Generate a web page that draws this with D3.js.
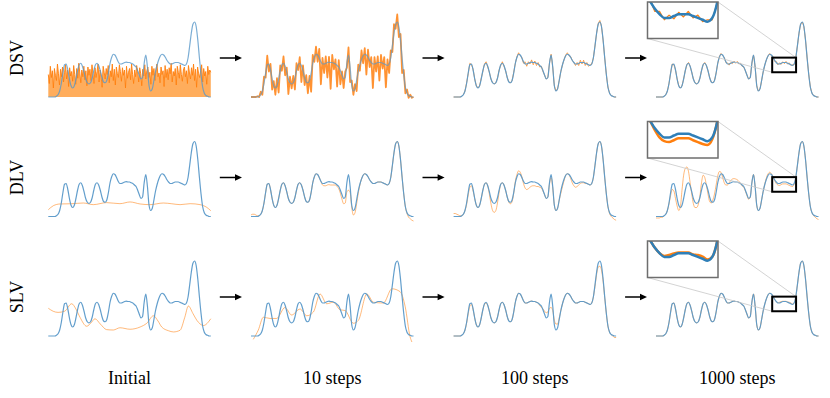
<!DOCTYPE html>
<html>
<head>
<meta charset="utf-8">
<script src="https://cdn.jsdelivr.net/npm/d3@7"></script>
<style>
    body { margin: 0; background: #fff; }
    text { font-family: "Liberation Serif", "DejaVu Serif", serif; }
</style>
</head>
<body>
<script>
const w = 830;
const h = 398;

const rowNames = ["DSV", "DLV", "SLV"];
const colNames = ["Initial", "10 steps", "100 steps", "1000 steps"];

// target density, 101 even samples across a panel (0 = floor, 100 = tallest peak)
const target = [
    0, 0, 0, 0, 0, 1, 3, 8, 18, 32,
    43, 44, 36, 24, 15, 12, 15, 24, 35, 43,
    45, 41, 33, 24, 19, 17.5, 19, 25, 35, 43,
    45, 42, 35, 26, 20, 19, 22, 32, 45, 53,
    57, 56, 52, 47, 44, 44, 45, 46, 46.5, 46,
    46, 45, 44, 42, 40, 35, 29, 24, 26, 45,
    56, 40, 15, 8, 11, 22, 34, 43, 50, 55,
    57, 56, 53, 49, 46, 44, 44, 45, 46, 46,
    46, 45, 44, 43, 42, 44, 52, 68, 85, 97,
    100, 94, 76, 52, 30, 13, 5, 2, 1, 0,
    0
];

// DSV initial: pure noise, 161 even samples
const dsvInitial = [
    30, 18, 41, 26, 35, 12, 38, 29, 22, 44, 31, 16, 37, 27, 40, 20, 33, 43, 24, 36,
    14, 39, 28, 34, 21, 42, 30, 17, 38, 25, 45, 32, 19, 36, 27, 41, 23, 35, 15, 40,
    29, 37, 22, 43, 31, 18, 39, 26, 34, 44, 20, 36, 28, 13, 41, 33, 24, 38, 30, 42,
    19, 35, 27, 44, 22, 37, 16, 40, 31, 26, 43, 34, 21, 39, 29, 36, 12, 41, 25, 33,
    38, 23, 44, 30, 18, 36, 27, 42, 34, 20, 39, 31, 15, 37, 28, 43, 24, 35, 40, 26,
    33, 17, 41, 29, 38, 22, 36, 44, 27, 32, 19, 40, 30, 35, 14, 42, 26, 37, 23, 39,
    31, 45, 20, 34, 28, 38, 16, 41, 33, 25, 43, 30, 21, 36, 40, 27, 35, 18, 42, 32,
    24, 39, 29, 44, 22, 37, 13, 40, 31, 26, 35, 43, 20, 38, 28, 34, 17, 41, 30, 36, 33
];

// deviations from the target, same 101 samples
const dsv10Off = [
    0, 0, 0, 0, 1,
    -1, 4, -5, 9, -6, 12, -10, 8, -14, 6, -9, 10, -18, 7, -8,
    9, -12, 6, -20, 8, -6, 9, -15, 10, -7, 8, -22, 7, -10, 9,
    -14, 6, -25, 11, -6, 10, -9, 12, -30, 8, -12, 9, -20, 7, -35,
    10, -8, 6, -28, 9, -18, 5, -12, 8, -6, 10, -20, 7, -5, 6,
    -14, 9, -8, 12, -10, 8, -26, 10, -9, 7, -32, 9, -11, 8, -24,
    10, -7, 9, -30, 8, -12, 10, -8, 12, -6, 10, -14, 8, -20, 6,
    -8, 5, -3, 2, -1,
    0
];
const dsv100Off = [
    0, 0, 0, 0, 0, 0, 0, 0, 1, -1,
    2, -1, 1, 0, 0, 0, 0, 1, -1, 1,
    2, -1, 0, 0, 0, 0, 0, 0, 1, -1,
    2, -1, 0, 0, 0, 0, 0, 1, 0, 1,
    2, -1, 1, -2, 3, -3, 2, -2, 3, -3,
    2, -3, 2, -2, 1, -1, 0, 0, 0, 0,
    1, 0, 0, 0, 0, 0, 0, 0, 0, 1,
    2, -1, 1, 0, 0, -2, 2, -3, 3, -2,
    3, -3, 2, -2, 1, 0, 0, 0, 0, 1,
    2, 0, 0, 0, 0, 0, 0, 0, 0, 0,
    0
];
const dsv1000Off = [
    0, 0, 0, 0, 0, 0, 0, 0, 0, 0,
    1, -1, 0, 0, 0, 0, 0, 0, 0, 0,
    1, 0, 0, 0, 0, 0, 0, 0, 0, 0,
    1, 0, 0, 0, 0, 0, 0, 0, 0, 1,
    1, -1, 1, -1, 1.5, -1.5, 1, -1.5, 1.5, -1,
    1.5, -1, 1, -1, 0, 0, 0, 0, 0, 0,
    0, 0, 0, 0, 0, 0, 0, 0, 0, 0,
    1, -1, 1, -1.5, 1.5, -1, 1.5, -1.5, 1, -1.5,
    1.5, -1, 1.5, -1, 1, -1, 0, 0, 0, 0,
    0, 0, 0, 0, 0, 0, 0, 0, 0, 0,
    0
];

// DLV initial, knots
const dlvInitU = [0, 0.031, 0.072, 0.14, 0.216, 0.277, 0.359, 0.441, 0.503, 0.565, 0.626, 0.708, 0.76, 0.811, 0.873, 0.934, 0.975, 1.0];
const dlvInitV = [9, 14.4, 16.7, 17, 18, 15.8, 18.5, 17.1, 19.4, 16.7, 15.8, 18, 17, 15.8, 17.1, 15.8, 12.2, 7.7];

const dlv10Off = [
    2, 3, 3, 2, 1, 0, 0, 0, 0, 0,
    0, 0, 0, 0, 0, 0, 0, 0, 0, 0,
    0, 0, 0, 0, 0, 0, 0, 0, 0, 0,
    0, 0, 0, 0, 0, 0, 0, 0, 0, 0,
    0, 0, 0, 0, -2, -3, -4, -4, -4, -4,
    -4, -3, -2, -2, -3, -4, -6, -7, -8, -12,
    -21, -8, -3, -6, -6, -5, -3, -1, 0, 0,
    0, 0, 0, 0, 0, 0, 0, 0, 0, 0,
    0, 0, 0, 0, 0, 0, 0, 0, 0, 0,
    0, 0, 0, 0, 0, 0, -1, -3, -4, -5,
    -6
];
const dlv100Off = [
    4, 4, 3, 2, 1, 0, 0, 0, -2, -3,
    -4, -3, -2, 0, 0, 0, 0, 0, 0, 0,
    0, 0, -3, -7, -11, -12, -11, -7, -3, 0,
    0, 0, 0, 0, -1, -2, -2, -1, 2, 3,
    4, 3, 1, -3, -6, -8, -8, -7, -6, -5,
    -5, -5, -4, -3, -2, -1, 0, 0, 0, -2,
    -4, -2, 0, 0, 0, 0, -3, -3, -2, 0,
    0, 0, -2, -4, -5, -5, -4, -3, -2, -1,
    -1, -1, 0, 0, 0, 0, 0, 0, 0, 0,
    0, 0, 0, 0, 0, 0, -1, -2, -3, -4,
    -5
];
const dlv1000Off = [
    -2, -2, -2, -1, -1, 0, 0, 0, -1, -4,
    -7, -10, -12, -10, -7, 1, 20, 31, 29, 23,
    15, 4, -3, -7, -7, -5.5, -3, 2, 10, 12,
    7, 0, -5, -6, -2, 3, 8, 10, 9, 7,
    2, -4, -7, -5, -2, 1, 3, 4, 4, 4,
    3, 2, 0, -1, -1, -1, -1, -1, 0, 0,
    0, 0, 0, 0, 0, 0, 0, 1, 2, 2,
    2, 1, 0, -1, -2, -2, -2.5, -2.5, -2.5, -2.5,
    -2.5, -2.5, -2.5, -2.5, -2, -1, 0, 0, 0, 0,
    0, 0, 0, 0, 0, 0, 0, -1, -2, -3,
    -4
];

// SLV initial and 10 steps, knots
const slvInitU = [0, 0.03, 0.06, 0.1, 0.144, 0.17, 0.195, 0.236, 0.265, 0.287, 0.32, 0.359, 0.4, 0.441, 0.503, 0.565, 0.606, 0.647, 0.675, 0.698, 0.74, 0.77, 0.811, 0.84, 0.862, 0.89, 0.914, 0.955, 1.0];
const slvInitV = [37, 33, 31.5, 33, 43, 36, 25, 13, 18, 23, 16, 8.5, 8, 11, 9, 12, 17, 27, 20, 12, 7, 5.4, 7.7, 25, 40, 30, 21, 14, 23];
const slv10U = [0.014, 0.045, 0.076, 0.117, 0.158, 0.209, 0.25, 0.302, 0.343, 0.384, 0.425, 0.466, 0.507, 0.548, 0.579, 0.63, 0.661, 0.713, 0.754, 0.815, 0.867, 0.918, 0.949, 0.979, 0.99];
const slv10V = [-4.5, 8, 25, 23.4, 23.4, 38, 28, 36, 27, 32, 56, 43, 45, 35, 34, 17, 21, 56, 45, 44, 63, 59, 39, -1, -8];

const slv100Off = [
    0, 0, 0, 0, 0, 0, 0, 0, -1, -2,
    -3, -2, -1, 0, 0, 0, 0, 0, 0, -1,
    -1, 0, 0, 0, 0, 0, 0, 0, 0, 0,
    0, 0, 0, 0, 0, 0, 0, 0, 0, 0,
    0, 0, 0, 0, 0, 0, 0, 0, 0, 0,
    0, 0, 0, -1, -2, 1, 4, 7, 6, -8,
    -18, -6, 6, 8, 5, 2, 0, 0, 0, 0,
    0, 0, 0, 0, 0, 0, 0, 0, 0, 0,
    0, 0, 0, 0, 0, 0, 0, -2, -3, -5,
    -7, -6, -3, -1, 0, 0, 0, 0, -1, -2,
    -2
];
const slv1000Off = [
    0, 0, 0, 0, 0, 0, 0, 0, 0, 0,
    0, 0, 0, 0, 0, 0, 0, 0, 0, 0,
    0, 0, 0, 0, 0, 0, 0, 0, 0, 0,
    0, 0, 0, 0, 0, 0, 0, 0, 0, 0,
    0, 0, 0, 0, 0, 0, 0, 0, 0, 0,
    0, 0, 0, 0, 0, 0, 0, 0, 0, 0,
    0, 0, 0, 0, 0, 0, 0, 0, 0, 0,
    0, 0, 0, 0, 0, 0.5, 1, 0.8, 0.3, 0.3,
    0.3, 0.3, 1, 1.2, 0.6, 0, 0, 0, 0, 0,
    0, 0, 0, 0, 0, 0, 0, 0, 0, 0,
    0
];

// zoomed window shown in the insets (panel fraction, density units)
const zoomU = [0.715, 0.862];
const zoomV = [33, 52.5];

// ---- layout ----
const colX = [48.3, 251, 453.6, 656];
const panelW = 162.5;
const rowBase = [97, 216.5, 336];
const panelH = 75;

const evenU = n => d3.range(n).map(i => i / (n - 1));
const pts = (us, vs) => us.map((u, i) => [u, vs[i]]);
const withOff = off => target.map((t, i) => [i / (target.length - 1), t + off[i]]);

const targetPts = pts(evenU(target.length), target);

// orange series for each row / column
const orange = [
    [
        { data: pts(evenU(dsvInitial.length), dsvInitial), smooth: false, op: 0.9, sw: 1, fill: true, blueOp: 0.8 },
        { data: withOff(dsv10Off), smooth: false, op: 0.85, sw: 1.8, blueOp: 0.7 },
        { data: withOff(dsv100Off), smooth: false, op: 0.7, sw: 1, blueOp: 0.95 },
        { data: withOff(dsv1000Off), smooth: false, op: 0.7, sw: 1, blueOp: 0.95 },
    ],
    [
        { data: pts(dlvInitU, dlvInitV), smooth: true, op: 0.55, sw: 1, blueOp: 0.95 },
        { data: withOff(dlv10Off), smooth: true, op: 0.55, sw: 1, blueOp: 0.95 },
        { data: withOff(dlv100Off), smooth: true, op: 0.55, sw: 1, blueOp: 0.95 },
        { data: withOff(dlv1000Off), smooth: true, op: 0.55, sw: 1, blueOp: 0.95 },
    ],
    [
        { data: pts(slvInitU, slvInitV), smooth: true, op: 0.55, sw: 1, blueOp: 0.95 },
        { data: pts(slv10U, slv10V), smooth: true, op: 0.55, sw: 1, blueOp: 0.95 },
        { data: withOff(slv100Off), smooth: true, op: 0.55, sw: 1, blueOp: 0.95 },
        { data: withOff(slv1000Off), smooth: true, op: 0.55, sw: 1, blueOp: 0.95 },
    ],
];

const svg = d3.select("body")
    .append("svg")
    .attr("width", w)
    .attr("height", h)
    ;

const defs = svg.append("defs");

function makeLine(x, y, smooth) {
    return d3.line()
        .x(d => x(d[0]))
        .y(d => y(d[1]))
        .curve(smooth ? d3.curveMonotoneX : d3.curveLinear);
}

for (let r = 0; r < 3; r++) {
    const y = d3.scaleLinear().domain([0, 100]).range([rowBase[r], rowBase[r] - panelH]);
    const mid = rowBase[r] - 39;

    svg.append("text")
        .attr("transform", `translate(23,${mid}) rotate(-90)`)
        .attr("text-anchor", "middle")
        .attr("font-size", "18px")
        .attr("fill", "#000")
        .text(rowNames[r])
        ;

    for (let c = 0; c < 4; c++) {
        const x = d3.scaleLinear().domain([0, 1]).range([colX[c], colX[c] + panelW]);
        const g = svg.append("g");
        const o = orange[r][c];

        if (o.fill) {
            g.append("path")
                .attr("d", d3.area()
                    .x(d => x(d[0]))
                    .y0(y(0))
                    .y1(d => y(d[1]))(o.data))
                .attr("fill", "#ff8a17")
                .attr("fill-opacity", 0.7)
                ;
        }

        g.append("path")
            .attr("d", makeLine(x, y, o.smooth)(o.data))
            .attr("fill", "none")
            .attr("stroke", "#ff7f0e")
            .attr("stroke-opacity", o.op)
            .attr("stroke-width", o.sw)
            .attr("stroke-linejoin", "round")
            ;

        g.append("path")
            .attr("d", makeLine(x, y, true)(targetPts))
            .attr("fill", "none")
            .attr("stroke", "#5a99c9")
            .attr("stroke-opacity", o.blueOp)
            .attr("stroke-width", 1.2)
            ;

        // arrow to the next column
        if (c < 3) {
            const x1 = colX[c] + panelW + 9;
            const x2 = colX[c + 1] - 9;
            svg.append("line")
                .attr("x1", x1).attr("x2", x2 - 4)
                .attr("y1", mid).attr("y2", mid)
                .attr("stroke", "#000")
                .attr("stroke-width", 1.5)
                ;
            svg.append("path")
                .attr("d", `M${x2 - 7},${mid - 3.2}L${x2},${mid}L${x2 - 7},${mid + 3.2}Z`)
                .attr("fill", "#000")
                ;
        }

        // zoomed inset on the last column
        if (c === 3) {
            const bx0 = x(zoomU[0]), bx1 = x(zoomU[1]);
            const by0 = y(zoomV[1]), by1 = y(zoomV[0]);
            const ix0 = colX[c] - 8.5, iy0 = rowBase[r] - 95;
            const iw = 70.5, ih = 36.5;

            svg.append("line")
                .attr("x1", ix0 + iw).attr("y1", iy0)
                .attr("x2", bx1).attr("y2", by0)
                .attr("stroke", "#c8c8c8").attr("stroke-width", 0.8)
                ;
            svg.append("line")
                .attr("x1", ix0).attr("y1", iy0 + ih)
                .attr("x2", bx0).attr("y2", by1)
                .attr("stroke", "#c8c8c8").attr("stroke-width", 0.8)
                ;

            svg.append("rect")
                .attr("x", bx0).attr("y", by0)
                .attr("width", bx1 - bx0).attr("height", by1 - by0)
                .attr("fill", "none")
                .attr("stroke", "#000")
                .attr("stroke-width", 2)
                ;

            const clipId = "clip" + r;
            defs.append("clipPath").attr("id", clipId)
                .append("rect")
                .attr("x", ix0).attr("y", iy0)
                .attr("width", iw).attr("height", ih)
                ;

            const xi = d3.scaleLinear().domain(zoomU).range([ix0, ix0 + iw]);
            const yi = d3.scaleLinear().domain(zoomV).range([iy0 + ih, iy0]);

            svg.append("rect")
                .attr("x", ix0).attr("y", iy0)
                .attr("width", iw).attr("height", ih)
                .attr("fill", "#fff")
                ;

            const ig = svg.append("g").attr("clip-path", `url(#${clipId})`);
            ig.append("path")
                .attr("d", makeLine(xi, yi, o.smooth)(o.data))
                .attr("fill", "none")
                .attr("stroke", "#ff7f0e")
                .attr("stroke-width", r === 0 ? 1.2 : 2.5)
                .attr("stroke-linejoin", "round")
                ;
            ig.append("path")
                .attr("d", makeLine(xi, yi, true)(targetPts))
                .attr("fill", "none")
                .attr("stroke", "#2f7fb8")
                .attr("stroke-width", 2.5)
                ;

            svg.append("rect")
                .attr("x", ix0).attr("y", iy0)
                .attr("width", iw).attr("height", ih)
                .attr("fill", "none")
                .attr("stroke", "#6e6e6e")
                .attr("stroke-width", 1.5)
                ;
        }
    }
}

svg.selectAll(".collabel")
    .data(colNames)
    .enter()
    .append("text")
    .attr("class", "collabel")
    .attr("x", (d, i) => colX[i] + panelW / 2)
    .attr("y", 384)
    .attr("text-anchor", "middle")
    .attr("font-size", "18px")
    .attr("fill", "#000")
    .text(d => d)
    ;
</script>
</body>
</html>
